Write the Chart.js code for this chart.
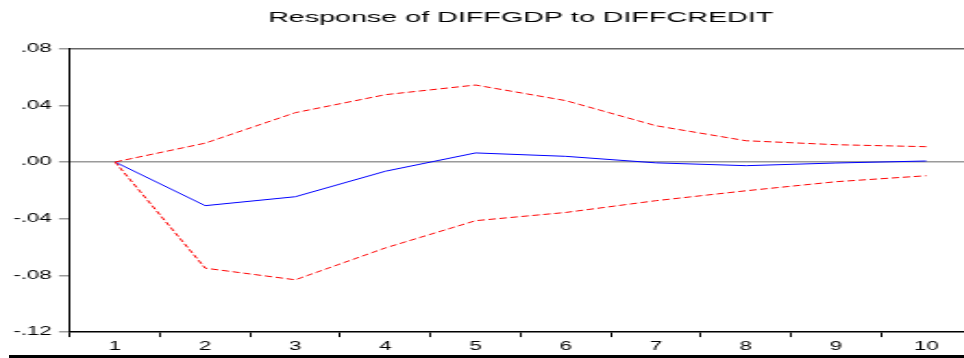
<!DOCTYPE html>
<html>
<head>
<meta charset="utf-8">
<script src="https://cdn.jsdelivr.net/npm/chart.js@4.4.1/dist/chart.umd.min.js"></script>
<style>
  html, body { margin: 0; padding: 0; background: #fff; overflow: hidden; width: 964px; height: 358px; }
  /* the graph is drawn narrow and widened, giving the broad lettering of the printout */
  #wrap { position: absolute; left: 0; top: 0; width: 525px; height: 358px; transform: scaleX(1.85); transform-origin: 0 0; }
  #rule { position: absolute; left: 9px; top: 355px; width: 960px; height: 3px; background: #000; }
</style>
</head>
<body>
<div id="wrap"><canvas id="c" width="525" height="358"></canvas></div>
<div id="rule"></div>
<script>
// Impulse response horizon (periods)
const periods = ['1', '2', '3', '4', '5', '6', '7', '8', '9', '10'];

// Response of DIFFGDP to a DIFFCREDIT shock
const response = [0, -0.0308, -0.0245, -0.0065, 0.0064, 0.0040, -0.0006, -0.0026, -0.0007, 0.0007];

// +/- 2 S.E. bands
const upperBand = [0, 0.0133, 0.0348, 0.0475, 0.0543, 0.0433, 0.0256, 0.0150, 0.0122, 0.0108];
const lowerBand = [0, -0.0749, -0.0831, -0.0606, -0.0414, -0.0356, -0.0273, -0.0203, -0.0139, -0.0097];

// Value axis ticks
const yTicks = [0.08, 0.04, 0, -0.04, -0.08, -0.12];

const fmt = v => {
  const s = Math.abs(v).toFixed(2).replace(/^0/, '');
  return (v < -1e-9 ? '-' : '') + s;
};
const isFrameLine = v => Math.abs(v) < 1e-9 || Math.abs(v - 0.08) < 1e-9;

const font = { family: "'Liberation Sans', Arial, sans-serif", size: 12 };

// centre the title over the plotting area rather than the whole canvas
const titleOverPlot = {
  id: 'titleOverPlot',
  afterLayout(chart) {
    if (chart.titleBlock) {
      chart.titleBlock.left = chart.chartArea.left;
      chart.titleBlock.right = chart.chartArea.right;
    }
  }
};

new Chart(document.getElementById('c'), {
  type: 'line',
  data: {
    labels: periods,
    datasets: [
      { data: upperBand, borderColor: 'rgb(255,0,0)', borderWidth: 1, borderDash: [4, 2], pointRadius: 0, tension: 0, fill: false },
      { data: lowerBand, borderColor: 'rgb(255,0,0)', borderWidth: 1, borderDash: [4, 2], pointRadius: 0, tension: 0, fill: false },
      { data: response, borderColor: 'rgb(0,0,255)', borderWidth: 1, pointRadius: 0, tension: 0, fill: false }
    ]
  },
  plugins: [titleOverPlot],
  options: {
    responsive: false,
    animation: false,
    layout: { padding: { left: 0, right: 0, top: 0, bottom: 1.5 } },
    plugins: {
      legend: { display: false },
      tooltip: { enabled: false },
      title: {
        display: true,
        text: 'Response of DIFFGDP to DIFFCREDIT',
        color: '#000',
        font: { family: "'Liberation Sans', Arial, sans-serif", size: 15.5, weight: 'normal' },
        padding: { top: 8, bottom: 22 }
      }
    },
    scales: {
      x: {
        type: 'category',
        offset: true,
        grid: { offset: true, drawOnChartArea: false, tickLength: 5, tickColor: '#000', lineWidth: 1 },
        border: { color: '#000', width: 1.5 },
        ticks: { font, color: '#000', padding: 2.5, maxRotation: 0, autoSkip: false }
      },
      y: {
        min: -0.12,
        max: 0.08,
        afterBuildTicks: s => { s.ticks = yTicks.map(v => ({ value: v })); },
        afterFit: s => { s.width = 70 / 1.85; },
        grid: {
          color: c => (c.tick && isFrameLine(c.tick.value)) ? (Math.abs(c.tick.value) < 1e-9 ? '#9a9a9a' : '#666') : 'rgba(0,0,0,0)',
          lineWidth: 1.5,
          tickColor: '#9a9a9a',
          tickLength: 6
        },
        border: { color: '#000', width: 1 },
        ticks: { font, color: '#000', padding: 4, callback: v => fmt(v) }
      }
    }
  }
});
</script>
</body>
</html>
